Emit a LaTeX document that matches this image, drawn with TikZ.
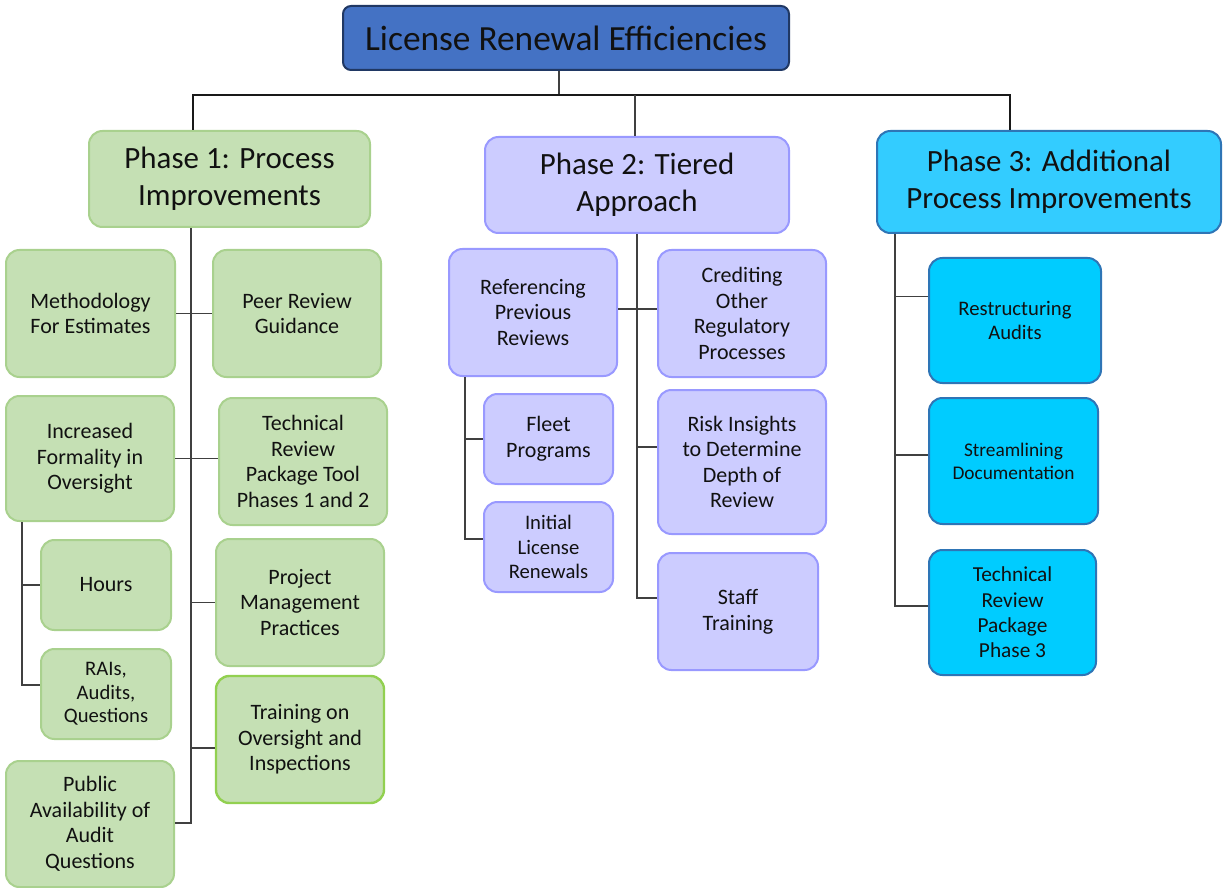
\documentclass[tikz,border=0pt]{standalone}
\usepackage{fontspec}
\setmainfont{Carlito}
\definecolor{titlefill}{HTML}{4472C4}
\definecolor{titledraw}{HTML}{203864}
\definecolor{gfill}{HTML}{C5E0B4}
\definecolor{gdraw}{HTML}{A9D18E}
\definecolor{gdrawdark}{HTML}{92D050}
\definecolor{pfill}{HTML}{CCCCFF}
\definecolor{pdraw}{HTML}{9999FF}
\definecolor{cfillhead}{HTML}{33CCFF}
\definecolor{cfill}{HTML}{00CCFF}
\definecolor{cdraw}{HTML}{2E75B6}
\definecolor{txt}{HTML}{111111}
\tikzset{
  basebox/.style={rectangle, rounded corners=10pt, line width=1.5pt, align=center, inner sep=0pt, text=txt},
  titlebox/.style={basebox, rounded corners=6pt, fill=titlefill, draw=titledraw, font=\fontsize{26.5}{31}\selectfont},
  headfont/.style={font=\fontsize{23.2}{27.75}\selectfont},
  smallfont/.style={font=\fontsize{16.5}{19.2}\selectfont},
  gbox/.style={basebox, fill=gfill, draw=gdraw},
  pbox/.style={basebox, fill=pfill, draw=pdraw},
  chead/.style={basebox, fill=cfillhead, draw=cdraw},
  cbox/.style={basebox, fill=cfill, draw=cdraw},
  link/.style={draw=black!75, line width=1.1pt},
  buslink/.style={draw=black!90, line width=1.5pt},
}
\begin{document}
\begin{tikzpicture}[x=0.75pt,y=-0.75pt]
\useasboundingbox (0,0) rectangle (1225,888);
% title
\node[titlebox, minimum width=334.5pt, minimum height=48pt] (title) at (566,38) {License Renewal Efficiencies};
% phase headers
\node[gbox, headfont, minimum width=210.75pt, minimum height=72pt] (p1) at (229.5,179) {Phase 1: Process\\Improvements};
\node[pbox, headfont, minimum width=228pt, minimum height=72pt] (p2) at (637,185) {Phase 2: Tiered\\Approach};
\node[chead, headfont, minimum width=258pt, minimum height=76.5pt] (p3) at (1049,182) {Phase 3: Additional\\Process Improvements};
% phase 1 children
\node[gbox, smallfont, minimum width=126.75pt, minimum height=95.25pt] (meth) at (90.5,313.5) {Methodology\\For Estimates};
\node[gbox, smallfont, minimum width=126pt, minimum height=95.25pt] (peer) at (297,313.5) {Peer Review\\Guidance};
\node[gbox, smallfont, minimum width=126pt, minimum height=93.75pt] (incf) at (90,458.5) {Increased\\Formality in\\Oversight};
\node[gbox, smallfont, minimum width=126pt, minimum height=95.25pt] (trpt) at (303,461.5) {Technical\\Review\\Package Tool\\Phases 1 and 2};
\node[gbox, smallfont, minimum width=97.5pt, minimum height=67.5pt] (hours) at (106,585) {Hours};
\node[gbox, font=\fontsize{15.5}{17.5}\selectfont, minimum width=97.5pt, minimum height=67.5pt] (rais) at (106,694) {RAIs,\\Audits,\\Questions};
\node[gbox, smallfont, minimum width=126pt, minimum height=95.25pt] (pmp) at (300,602.5) {Project\\Management\\Practices};
\node[gbox, draw=gdrawdark, line width=1.8pt, smallfont, minimum width=126pt, minimum height=95.25pt] (train) at (300,739.5) {Training on\\Oversight and\\Inspections};
\node[gbox, smallfont, minimum width=126pt, minimum height=94.5pt] (pub) at (90,824) {Public\\Availability of\\Audit\\Questions};
% phase 2 children
\node[pbox, smallfont, minimum width=126pt, minimum height=95.25pt] (ref) at (533,312.5) {Referencing\\Previous\\Reviews};
\node[pbox, smallfont, minimum width=126pt, minimum height=95.25pt] (cred) at (742,313.5) {Crediting\\Other\\Regulatory\\Processes};
\node[pbox, smallfont, minimum width=96.75pt, minimum height=67.5pt] (fleet) at (548.5,439) {Fleet\\Programs};
\node[pbox, font=\fontsize{15.5}{18.2}\selectfont, minimum width=96.75pt, minimum height=67.5pt] (init) at (548.5,547) {Initial\\License\\Renewals};
\node[pbox, smallfont, minimum width=126pt, minimum height=108pt] (risk) at (742,462) {Risk Insights\\to Determine\\Depth of\\Review};
\node[pbox, smallfont, minimum width=120pt, minimum height=87.75pt] (staff) at (738,611.5) {Staff\\Training};
% phase 3 children
\node[cbox, font=\fontsize{15.5}{18}\selectfont, minimum width=129pt, minimum height=93.75pt] (restr) at (1015,320.5) {Restructuring\\Audits};
\node[cbox, font=\fontsize{14.5}{17.25}\selectfont, minimum width=126.75pt, minimum height=94.5pt] (stream) at (1013.5,461) {Streamlining\\Documentation};
\node[cbox, font=\fontsize{16}{19}\selectfont, minimum width=125.25pt, minimum height=93.75pt] (trp3) at (1012.5,612.5) {Technical\\Review\\Package\\Phase 3};
% bus coordinates
\coordinate (bt) at (559,95);
\coordinate (b1) at (193,95);
\coordinate (b2) at (635,95);
\coordinate (b3) at (1010,95);
\coordinate (t1) at (191,823);
\coordinate (s1) at (22,685);
\coordinate (t2) at (637,598);
\coordinate (s2) at (465,539);
\coordinate (t3) at (895,606);
% top bus
\draw[link] (title.south -| bt) -- (bt);
\draw[buslink] (b1 |- p1.north) -- (b1) -- (b3) -- (b3 |- p3.north);
\draw[link] (b2) -- (b2 |- p2.north);
% phase 1 links
\draw[link] (t1 |- p1.south) -- (t1) -- (t1 -| pub.east);
\draw[link] (meth.east) -- (peer.west);
\draw[link] (incf.east) -- (incf.east -| trpt.west);
\draw[link] (pmp.west -| t1) -- (pmp.west);
\draw[link] ([yshift=-6.4pt]train.west -| t1) -- ([yshift=-6.4pt]train.west);
\draw[link] (incf.south -| s1) -- (s1) -- (s1 -| rais.west);
\draw[link] (s1 |- hours.west) -- (hours.west);
% phase 2 links
\draw[link] (t2 |- p2.south) -- (t2) -- (t2 -| staff.west);
\draw[link] ([yshift=2.5pt]ref.east) -- ([yshift=2.5pt]ref.east -| cred.west);
\draw[link] ([yshift=11.25pt]risk.west -| t2) -- ([yshift=11.25pt]risk.west);
\draw[link] (ref.south -| s2) -- (s2) -- (s2 -| init.west);
\draw[link] (s2 |- fleet.west) -- (fleet.west);
% phase 3 links
\draw[link] (t3 |- p3.south) -- (t3) -- (t3 -| trp3.west);
\draw[link] ([yshift=18pt]restr.west -| t3) -- ([yshift=18pt]restr.west);
\draw[link] ([yshift=4.5pt]stream.west -| t3) -- ([yshift=4.5pt]stream.west);
\end{tikzpicture}
\end{document}
